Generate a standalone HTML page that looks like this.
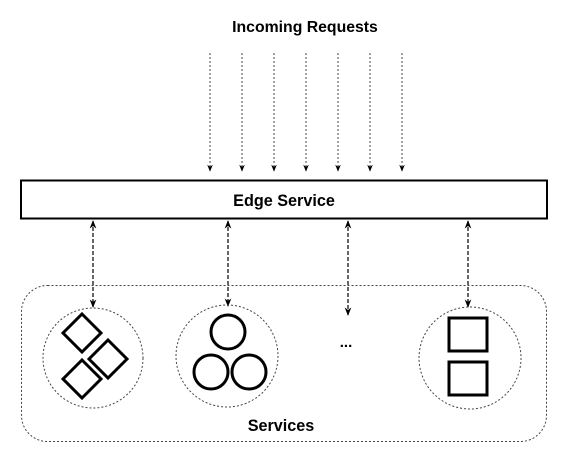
<!DOCTYPE html>
<html><head><style>html,body{margin:0;padding:0;background:#fff}</style></head><body>
<svg width="582" height="460" viewBox="0 0 582 460" xmlns="http://www.w3.org/2000/svg" font-family="Liberation Sans, Arial, sans-serif">
<defs>
<marker id="a" viewBox="0 0 10 10" refX="9" refY="5" markerWidth="7" markerHeight="7" orient="auto-start-reverse"><path d="M0,1 L10,5 L0,9 L3,5 Z" fill="#000"/></marker>
</defs>
<text x="305" y="32" text-anchor="middle" font-size="15.8" font-weight="bold">Incoming Requests</text>
<g stroke="#444" stroke-width="1" stroke-dasharray="2,2" marker-end="url(#a)">
<line x1="210" y1="53" x2="210" y2="171"/>
<line x1="242" y1="53" x2="242" y2="171"/>
<line x1="274" y1="53" x2="274" y2="171"/>
<line x1="306" y1="53" x2="306" y2="171"/>
<line x1="338" y1="53" x2="338" y2="171"/>
<line x1="370" y1="53" x2="370" y2="171"/>
<line x1="402" y1="53" x2="402" y2="171"/>
</g>
<rect x="21" y="180.5" width="526" height="38" fill="#fff" stroke="#000" stroke-width="2"/>
<text x="284" y="206" text-anchor="middle" font-size="16.2" font-weight="bold">Edge Service</text>
<rect x="21.5" y="285.5" width="525" height="156" rx="26" fill="none" stroke="#444" stroke-width="1" stroke-dasharray="2,2"/>
<g stroke="#000" stroke-width="1.2" stroke-dasharray="4,2" marker-start="url(#a)" marker-end="url(#a)">
<line x1="93" y1="221" x2="93" y2="307"/>
<line x1="228" y1="221" x2="228" y2="306"/>
<line x1="468" y1="221" x2="468" y2="307"/>
</g>
<line x1="348" y1="221" x2="348" y2="315" stroke="#000" stroke-width="1.2" stroke-dasharray="4,2" marker-start="url(#a)" marker-end="url(#a)"/>
<g fill="none" stroke="#444" stroke-width="1" stroke-dasharray="2,2">
<circle cx="93" cy="358" r="50"/>
<circle cx="227" cy="356" r="51"/>
<circle cx="470" cy="358" r="51"/>
</g>
<g fill="none" stroke="#000" stroke-width="3">
<path d="M82,314 L101,333 L82,352 L63,333 Z"/>
<path d="M108,340 L127,359 L108,378 L89,359 Z"/>
<path d="M82,360 L101,379 L82,398 L63,379 Z"/>
<circle cx="228" cy="332" r="17"/>
<circle cx="211" cy="372" r="17"/>
<circle cx="249" cy="372" r="17"/>
<rect x="449" y="318" width="38" height="33"/>
<rect x="449" y="362" width="38" height="33"/>
</g>
<text x="346" y="347" text-anchor="middle" font-size="15" font-weight="bold">...</text>
<text x="281" y="431" text-anchor="middle" font-size="16.2" font-weight="bold">Services</text>
</svg>
</body></html>
